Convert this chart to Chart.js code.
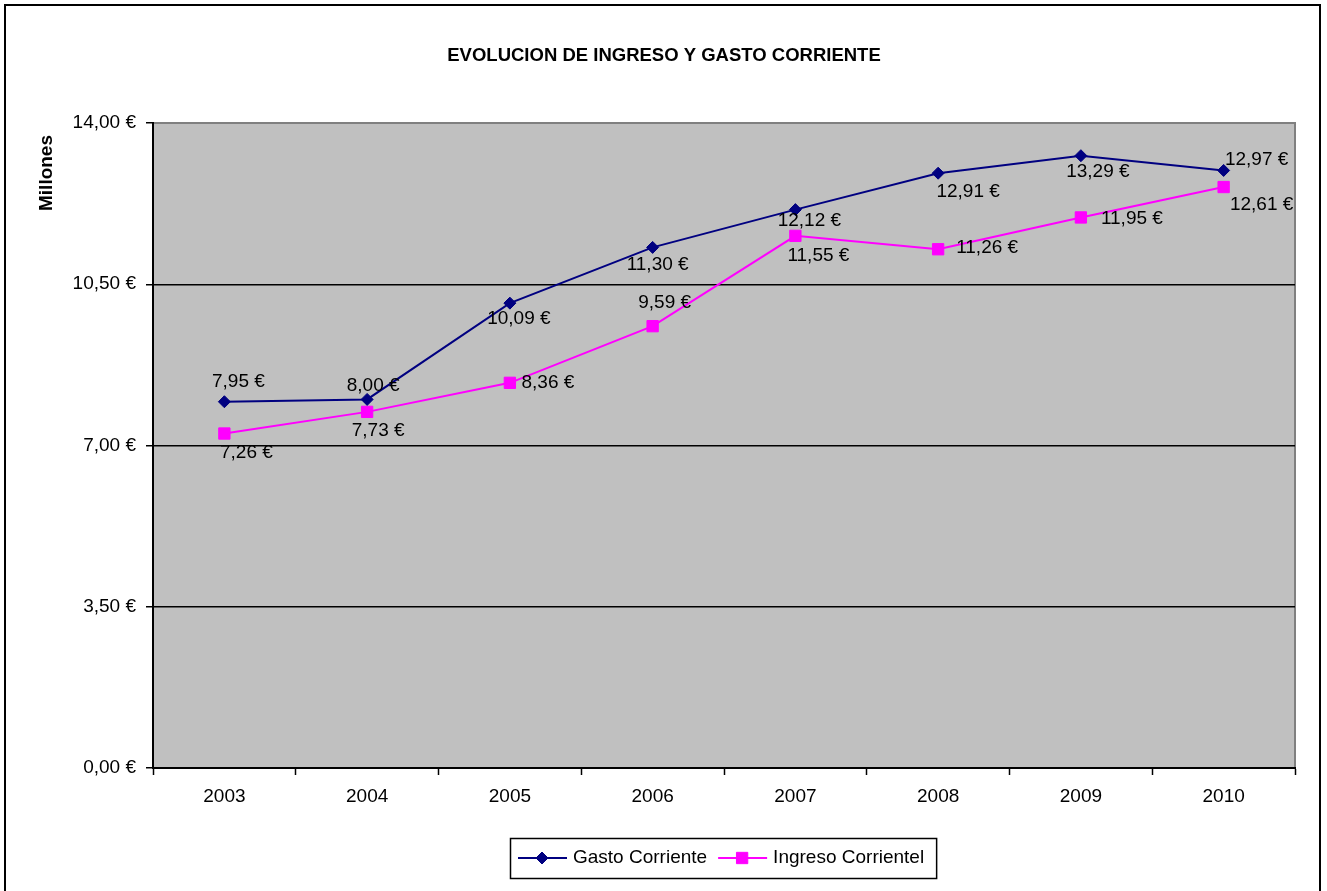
<!DOCTYPE html>
<html>
<head>
<meta charset="utf-8">
<script src="https://cdn.jsdelivr.net/npm/chart.js@4.4.0/dist/chart.umd.min.js"></script>
<style>
  html, body { margin: 0; padding: 0; background: #fff; }
  canvas { display: block; }
</style>
</head>
<body>
<canvas id="chart" width="1327" height="891"></canvas>
<script>
// data (millions of euros)
const years = ["2003", "2004", "2005", "2006", "2007", "2008", "2009", "2010"];
const gastoCorriente = [7.95, 8.00, 10.09, 11.30, 12.12, 12.91, 13.29, 12.97];
const ingresoCorriente = [7.26, 7.73, 8.36, 9.59, 11.55, 11.26, 11.95, 12.61];
const yTicks = [0, 3.5, 7, 10.5, 14];

const chartTitle = "EVOLUCION DE INGRESO Y GASTO CORRIENTE";
const yTitle = "Millones";

// where each value label sits relative to its point (px), like in the original
const gastoLabelOffsets = [[14, -20], [6, -14], [9, 16], [5, 17], [14, 11], [30, 19], [17, 16], [33, -11]];
const ingresoLabelOffsets = [[22, 19], [11, 19], [38, 0], [12, -23], [23, 20], [49, -1], [51, 1], [38, 18]];

const FONT = "'Liberation Sans', Arial, sans-serif";

const fmtEuro = (v) => v.toFixed(2).replace(".", ",") + " €";

// gray plot background, gray top/right border, outer frame, titles
const backdrop = {
  id: "backdrop",
  beforeDraw(chart) {
    const { ctx, chartArea: a } = chart;
    ctx.save();
    ctx.fillStyle = "#fff";
    ctx.fillRect(0, 0, chart.width, chart.height);
    ctx.fillStyle = "#c0c0c0";
    ctx.fillRect(a.left, a.top, a.right - a.left, a.bottom - a.top);
    ctx.strokeStyle = "#808080";
    ctx.lineWidth = 2;
    ctx.beginPath();
    ctx.moveTo(a.left, a.top);
    ctx.lineTo(a.right, a.top);
    ctx.lineTo(a.right, a.bottom);
    ctx.stroke();
    ctx.restore();
  },
  afterDraw(chart) {
    const { ctx } = chart;
    ctx.save();
    ctx.strokeStyle = "#000";
    ctx.lineWidth = 2;
    ctx.strokeRect(5, 5, 1315, 900);

    ctx.fillStyle = "#000";
    ctx.textAlign = "center";
    ctx.textBaseline = "middle";
    ctx.font = "bold 18.5px " + FONT;
    ctx.fillText(chartTitle, 664, 56);

    ctx.translate(47, 173);
    ctx.rotate(-Math.PI / 2);
    ctx.font = "bold 19px " + FONT;
    ctx.fillText(yTitle, 0, 0);
    ctx.restore();
  }
};

// value labels next to each point
const valueLabels = {
  id: "valueLabels",
  afterDatasetsDraw(chart) {
    const { ctx } = chart;
    const offsets = [gastoLabelOffsets, ingresoLabelOffsets];
    ctx.save();
    ctx.font = "19px " + FONT;
    ctx.fillStyle = "#000";
    ctx.textAlign = "center";
    ctx.textBaseline = "middle";
    chart.data.datasets.forEach((ds, i) => {
      const meta = chart.getDatasetMeta(i);
      meta.data.forEach((pt, j) => {
        const [dx, dy] = offsets[i][j];
        ctx.fillText(fmtEuro(ds.data[j]), pt.x + dx, pt.y + dy);
      });
    });
    ctx.restore();
  }
};

// boxed legend at the bottom, line with marker through it
const boxLegend = {
  id: "boxLegend",
  afterDraw(chart) {
    const { ctx } = chart;
    const top = 838, h = 40, cy = top + h / 2;
    ctx.save();
    ctx.font = "19px " + FONT;
    ctx.textBaseline = "middle";
    ctx.textAlign = "left";
    let x = 518;
    const left = 510;
    chart.data.datasets.forEach((ds) => {
      ctx.strokeStyle = ds.borderColor;
      ctx.fillStyle = ds.pointBackgroundColor;
      ctx.lineWidth = 2;
      ctx.beginPath();
      ctx.moveTo(x, cy);
      ctx.lineTo(x + 49, cy);
      ctx.stroke();
      ctx.lineWidth = 1;
      Chart.helpers.drawPoint(ctx, {
        pointStyle: ds.pointStyle, radius: ds.pointRadius, rotation: 0, borderWidth: 1
      }, x + 24, cy);
      ctx.fillStyle = "#000";
      ctx.fillText(ds.label, x + 55, cy);
      x += 55 + ctx.measureText(ds.label).width + 11;
    });
    ctx.strokeStyle = "#000";
    ctx.lineWidth = 1.5;
    ctx.strokeRect(left + 0.5, top + 0.5, x - 11 + 12 - left, h);
    ctx.restore();
  }
};

new Chart(document.getElementById("chart"), {
  type: "line",
  data: {
    labels: years,
    datasets: [
      {
        label: "Gasto Corriente",
        data: gastoCorriente,
        borderColor: "#000080",
        backgroundColor: "#000080",
        pointBackgroundColor: "#000080",
        pointBorderColor: "#000080",
        borderWidth: 2,
        pointStyle: "rectRot",
        pointRadius: 6,
        pointBorderWidth: 1,
        tension: 0
      },
      {
        label: "Ingreso Corrientel",
        data: ingresoCorriente,
        borderColor: "#ff00ff",
        backgroundColor: "#ff00ff",
        pointBackgroundColor: "#ff00ff",
        pointBorderColor: "#ff00ff",
        borderWidth: 2,
        pointStyle: "rect",
        pointRadius: 8,
        pointBorderWidth: 1,
        tension: 0
      }
    ]
  },
  options: {
    responsive: false,
    animation: false,
    layout: { padding: { left: 0, right: 32, top: 123, bottom: 0 } },
    plugins: {
      legend: { display: false },
      title: { display: false },
      tooltip: { enabled: false }
    },
    scales: {
      x: {
        type: "category",
        offset: true,
        afterFit: (scale) => { scale.height = 123; },
        grid: {
          offset: true,
          drawOnChartArea: false,
          drawTicks: true,
          tickLength: 7,
          tickColor: "#000",
          tickWidth: 1.5
        },
        border: { display: true, color: "#000", width: 2 },
        ticks: {
          color: "#000",
          font: { family: FONT, size: 19 },
          padding: 10,
          maxRotation: 0
        }
      },
      y: {
        min: 0,
        max: 14,
        afterFit: (scale) => { scale.width = 153; },
        afterBuildTicks: (scale) => { scale.ticks = yTicks.map((v) => ({ value: v })); },
        grid: {
          color: (c) => (c.tick && c.tick.value === 14 ? "#808080" : "#000"),
          lineWidth: 1.5,
          drawTicks: true,
          tickLength: 7,
          tickColor: "#000",
          tickWidth: 1.5
        },
        border: { display: true, color: "#000", width: 2 },
        ticks: {
          color: "#000",
          font: { family: FONT, size: 19 },
          padding: 10,
          callback: (v) => fmtEuro(v)
        }
      }
    }
  },
  plugins: [backdrop, valueLabels, boxLegend]
});
</script>
</body>
</html>
